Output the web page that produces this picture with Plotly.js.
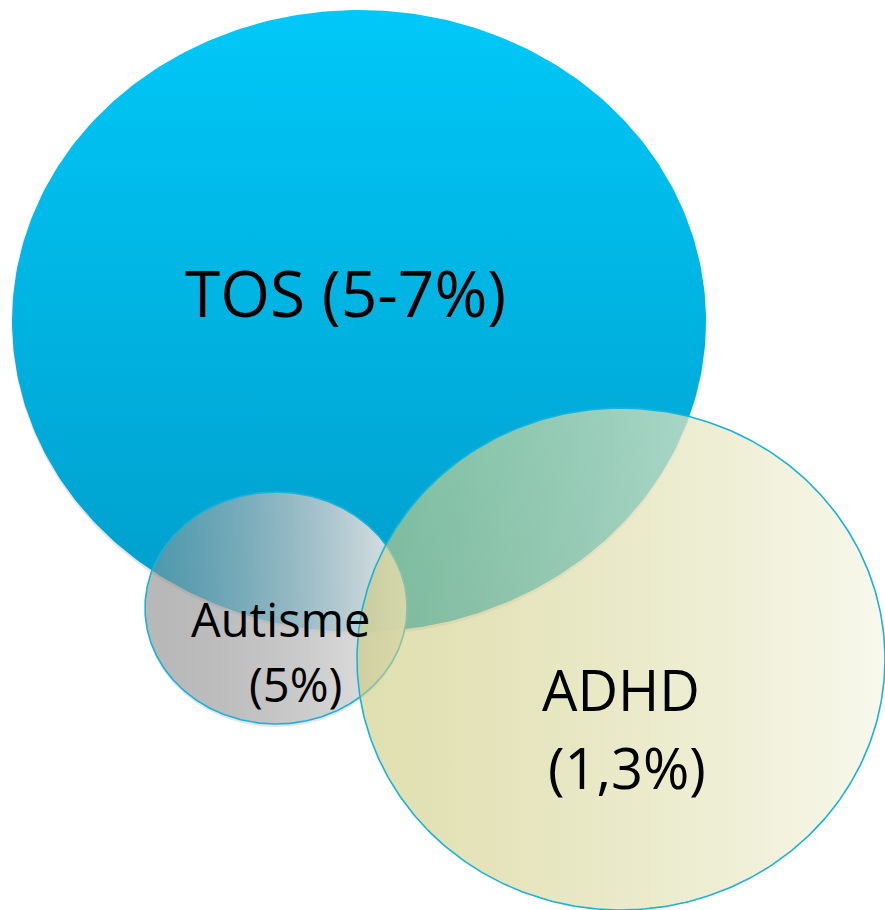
<!DOCTYPE html>
<html>
<head>
<meta charset="utf-8">
<script src="https://cdn.plot.ly/plotly-3.0.1.min.js"></script>
<style>
  html, body { margin: 0; padding: 0; background: #ffffff; }
  #chart { width: 885px; height: 910px; }
</style>
</head>
<body>
<div id="chart"></div>
<script>
// ---- data ----
var setNames = ['TOS', 'Autisme', 'ADHD'];
var prevalence = ['5-7%', '5%', '1,3%'];

// ---- geometry (layout, in pixel-like axis units) ----
var centerX = [359, 276, 621];
var centerY = [321, 608, 659];
var radiusX = [347, 131, 264];
var radiusY = [311, 116, 251];

// ---- styles ----
var gradients = [
  {type: 'vertical', colorscale: [[0, '#00C8F8'], [1, '#009DCA']]},
  {type: 'horizontal', colorscale: [[0, 'rgba(142,142,142,0.52)'], [1, 'rgba(232,232,232,0.97)']]},
  {type: 'horizontal', colorscale: [[0, 'rgba(203,202,123,0.6)'], [1, 'rgba(246,246,232,0.8)']]}
];
var outline = ['rgba(0,0,0,0)', '#19B2DA', '#19B2DA'];

function ellipse(i, dx, dy) {
  var xs = [], ys = [];
  var n = 360;
  for (var k = 0; k <= n; k++) {
    var t = 2 * Math.PI * k / n;
    xs.push(centerX[i] + dx + radiusX[i] * Math.cos(t));
    ys.push(centerY[i] + dy + radiusY[i] * Math.sin(t));
  }
  return {x: xs, y: ys};
}

var traces = [];
// soft shadows
[0, 1].forEach(function (i) {
  var e = ellipse(i, 0, 3);
  traces.push({
    type: 'scatter', mode: 'lines', x: e.x, y: e.y, fill: 'toself',
    fillcolor: 'rgba(0,0,0,0.10)', line: {width: 0, color: 'rgba(0,0,0,0)'},
    hoverinfo: 'skip', showlegend: false
  });
});
for (var i = 0; i < setNames.length; i++) {
  var e = ellipse(i, 0, 0);
  var g = gradients[i];
  var fg = {type: g.type, colorscale: g.colorscale};
  if (g.type === 'vertical') { fg.start = centerY[i] - radiusY[i]; fg.stop = centerY[i] + radiusY[i]; }
  else { fg.start = centerX[i] - radiusX[i]; fg.stop = centerX[i] + radiusX[i]; }
  traces.push({
    type: 'scatter', mode: 'lines', name: setNames[i],
    x: e.x, y: e.y, fill: 'toself', fillgradient: fg,
    line: {color: outline[i], width: 1.6},
    hoverinfo: 'name', showlegend: false
  });
}

var FONT = '"Open Sans", "Noto Sans", sans-serif';
var annotations = [
  {x: 345, y: 292, text: setNames[0] + ' (' + prevalence[0] + ')', size: 64},
  {x: 280, y: 619, text: setNames[1], size: 47},
  {x: 295, y: 684, text: '(' + prevalence[1] + ')', size: 47},
  {x: 621, y: 689, text: setNames[2], size: 56},
  {x: 627, y: 767, text: '(' + prevalence[2] + ')', size: 56}
].map(function (a) {
  return {
    x: a.x, y: a.y, xref: 'x', yref: 'y', text: a.text, showarrow: false,
    xanchor: 'center', yanchor: 'middle',
    font: {family: FONT, size: a.size, color: '#000000'}
  };
});

var layout = {
  width: 885, height: 910,
  margin: {l: 0, r: 0, t: 0, b: 0},
  paper_bgcolor: '#ffffff', plot_bgcolor: '#ffffff',
  xaxis: {range: [0, 885], visible: false, fixedrange: true},
  yaxis: {range: [910, 0], visible: false, fixedrange: true},
  annotations: annotations,
  showlegend: false
};

Plotly.newPlot('chart', traces, layout, {displayModeBar: false, staticPlot: true});
</script>
</body>
</html>
